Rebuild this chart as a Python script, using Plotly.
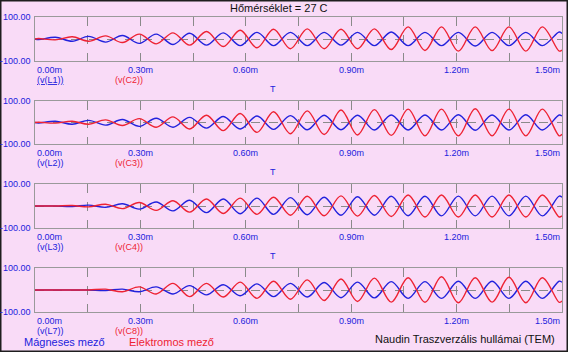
import plotly.graph_objects as go

# time points (ms) at which the waveform extremes were read
t_ms = [0.000, 0.010, 0.058, 0.106, 0.153, 0.201, 0.249, 0.297, 0.345, 0.393, 0.440,
        0.488, 0.536, 0.584, 0.632, 0.679, 0.727, 0.775, 0.823, 0.871, 0.918,
        0.966, 1.014, 1.062, 1.110, 1.157, 1.205, 1.253, 1.301, 1.349, 1.397,
        1.444, 1.492, 1.500]

# magnetic (blue) and electric (red) field values, one pair per panel
v_L1 = [0, -3, 8, -10, 12, -14, 16, -20, 22, -25, 26, -28, 28, -30, 30, -30, 30,
        -30, 30, -28, 30, -30, 32, -30, 30, -30, 30, -32, 30, -30, 30, -30, 32, 25]
v_C2 = [0, 2, -4, 10, -10, 14, -16, 22, -22, 28, -28, 34, -34, 40, -40, 44, -44,
        46, -44, 44, -44, 46, -48, 55, -52, 55, -55, 55, -53, 55, -55, 55, -55, -50]
v_L2 = [0, -2, 6, -8, 10, -12, 14, -18, 20, -22, 24, -26, 28, -30, 30, -32, 32,
        -34, 34, -34, 34, -35, 35, -35, 35, -35, 36, -36, 35, -35, 36, -35, 35, 30]
v_C3 = [0, 1, -3, 6, -8, 12, -14, 18, -22, 26, -30, 34, -38, 42, -46, 50, -52,
        54, -56, 58, -58, 60, -60, 62, -62, 62, -62, 64, -62, 62, -62, 62, -62, -55]
v_L3 = [0, 0, 0, -2, 4, -6, 10, -14, 18, -22, 26, -30, 32, -35, 36, -38, 38,
        -40, 40, -42, 42, -42, 44, -44, 44, -45, 45, -45, 45, -45, 45, -45, 45, 40]
v_C4 = [0, 0, 0, 2, -4, 8, -12, 16, -20, 24, -28, 32, -34, 36, -38, 40, -42,
        44, -44, 46, -46, 48, -48, 50, -50, 50, -50, 50, -50, 50, -50, 50, -50, -45]
v_L7 = [0, 0, 0, 0, 0, -2, 4, -8, 14, -18, 20, -22, 24, -26, 28, -30, 30,
        -32, 34, -35, 36, -36, 38, -38, 38, -38, 40, -38, 40, -38, 40, -38, 40, 35]
v_C8 = [0, 0, 0, 0, 0, 4, -8, 14, -18, 30, -30, 30, -32, 36, -38, 40, -42,
        46, -48, 50, -52, 54, -55, 56, -56, 60, -58, 56, -55, 58, -58, 56, -56, -50]

blue_names = ["(v(L1))", "(v(L2))", "(v(L3))", "(v(L7))"]
red_names = ["(v(C2))", "(v(C3))", "(v(C4))", "(v(C8))"]
blue_series = [v_L1, v_L2, v_L3, v_L7]
red_series = [v_C2, v_C3, v_C4, v_C8]

x_ticks = [0.0, 0.3, 0.6, 0.9, 1.2, 1.5]
x_tick_text = ["0.00m", "0.30m", "0.60m", "0.90m", "1.20m", "1.50m"]
y_ticks = [-100, 100]
y_tick_text = ["-100.00", "100.00"]
grid_x = [0.15, 0.30, 0.45, 0.60, 0.75, 0.90, 1.05, 1.20, 1.35]

W, H = 568, 352
BLUE = "#2222dd"
RED = "#ee2233"
BG = "#f9dbf7"
FONT = "Liberation Sans, Arial, sans-serif"

# panel pixel extents (top, bottom)
panels = [(17, 61), (101, 144), (184, 228), (268, 312)]
x0_px, x1_px = 35, 562

fig = go.Figure()
annotations = []
for i in range(4):
    n = i + 1
    xa = "x" if n == 1 else f"x{n}"
    ya = "y" if n == 1 else f"y{n}"
    top, bot = panels[i]
    fig.add_trace(go.Scatter(x=t_ms, y=blue_series[i], mode="lines", line_shape="spline",
                             line=dict(color=BLUE, width=1.4), xaxis=xa, yaxis=ya,
                             showlegend=False, hoverinfo="skip"))
    fig.add_trace(go.Scatter(x=t_ms, y=red_series[i], mode="lines", line_shape="spline",
                             line=dict(color=RED, width=1.4), xaxis=xa, yaxis=ya,
                             showlegend=False, hoverinfo="skip"))
    axcommon = dict(showline=True, mirror=True, linecolor="#9a9a9a", linewidth=1,
                    zeroline=False, ticks="", showticklabels=False)
    fig.update_layout(**{
        ("xaxis" if n == 1 else f"xaxis{n}"): dict(
            domain=[x0_px / W, x1_px / W], range=[0, 1.5], anchor=ya,
            tickvals=grid_x, showgrid=True,
            gridcolor="#8a8a8a", griddash="dash", gridwidth=1, **axcommon),
        ("yaxis" if n == 1 else f"yaxis{n}"): dict(
            domain=[1 - bot / H, 1 - top / H], range=[-100, 100], anchor=xa,
            tickvals=[0], showgrid=True,
            gridcolor="#8a8a8a", griddash="dash", gridwidth=1, **axcommon),
    })
    for yv, txt in zip(y_ticks, y_tick_text):
        annotations.append(dict(x=33 / W, y=yv, xref="paper", yref=ya, text=txt,
                                showarrow=False, xanchor="right", yanchor="middle",
                                font=dict(family=FONT, size=9, color=BLUE)))
    for xv, txt in zip(x_ticks, x_tick_text):
        anc = "left" if xv == 0 else ("right" if xv == 1.5 else "center")
        annotations.append(dict(x=xv, y=1 - (bot + 9) / H, xref=xa, yref="paper",
                                text=txt, showarrow=False, xanchor=anc, yanchor="middle",
                                font=dict(family=FONT, size=9, color=BLUE)))
    annotations.append(dict(x=x0_px / W, y=1 - (bot + 19) / H, xref="paper", yref="paper",
                            text=blue_names[i] if i else "<u>" + blue_names[i] + "</u>",
                            showarrow=False, xanchor="left",
                            yanchor="middle", font=dict(family=FONT, size=9, color=BLUE)))
    annotations.append(dict(x=113 / W, y=1 - (bot + 19) / H, xref="paper", yref="paper",
                            text=red_names[i], showarrow=False, xanchor="left",
                            yanchor="middle", font=dict(family=FONT, size=9, color=RED)))
    if i < 3:
        annotations.append(dict(x=273 / W, y=1 - (bot + 28) / H, xref="paper", yref="paper",
                                text="T", showarrow=False, xanchor="center",
                                yanchor="middle", font=dict(family=FONT, size=9, color=BLUE)))

annotations += [
    dict(x=279 / W, y=1 - 8 / H, xref="paper", yref="paper", text="Hőmérséklet = 27 C",
         showarrow=False, xanchor="center", yanchor="middle",
         font=dict(family=FONT, size=11, color="#111111")),
    dict(x=22 / W, y=1 - 342 / H, xref="paper", yref="paper", text="Mágneses mező",
         showarrow=False, xanchor="left", yanchor="middle",
         font=dict(family=FONT, size=11, color=BLUE)),
    dict(x=127 / W, y=1 - 342 / H, xref="paper", yref="paper", text="Elektromos mező",
         showarrow=False, xanchor="left", yanchor="middle",
         font=dict(family=FONT, size=11, color=RED)),
    dict(x=557 / W, y=1 - 339 / H, xref="paper", yref="paper",
         text="Naudin Traszverzális hullámai (TEM)",
         showarrow=False, xanchor="right", yanchor="middle",
         font=dict(family=FONT, size=11, color="#111111")),
]

fig.update_layout(
    width=W, height=H, margin=dict(l=0, r=0, t=0, b=0),
    paper_bgcolor=BG, plot_bgcolor="rgba(0,0,0,0)",
    annotations=annotations,
    shapes=[dict(type="rect", xref="paper", yref="paper", x0=0, y0=0, x1=1, y1=1,
                 line=dict(color="#1e1e1e", width=3), fillcolor="rgba(0,0,0,0)", layer="above")],
)

fig.write_html("out.html")
